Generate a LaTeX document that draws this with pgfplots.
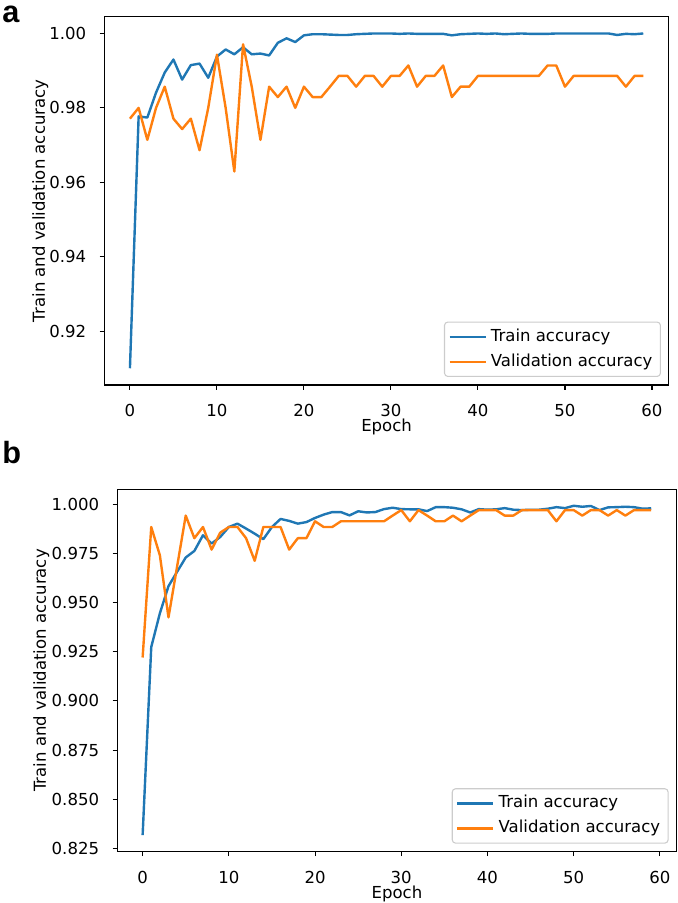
\documentclass[border=0pt]{standalone}
\usepackage{fontspec}
\setmainfont{DejaVu Sans}
\newfontfamily\panelfont{Liberation Sans}
\usepackage{pgfplots}
\usepackage{pgfplotstable}
\pgfplotsset{compat=1.18}
\definecolor{mblue}{HTML}{1F77B4}
\definecolor{morange}{HTML}{FF7F0E}

\pgfplotstableread{
epoch train val
0 0.9100 0.9771
1 0.9777 0.9800
2 0.9774 0.9714
3 0.9841 0.9800
4 0.9895 0.9857
5 0.9930 0.9771
6 0.9876 0.9743
7 0.9915 0.9771
8 0.9919 0.9686
9 0.9881 0.9800
10 0.9938 0.9943
11 0.9957 0.9800
12 0.9944 0.9629
13 0.9963 0.9971
14 0.9944 0.9857
15 0.9946 0.9714
16 0.9941 0.9857
17 0.9975 0.9829
18 0.9987 0.9857
19 0.9977 0.9800
20 0.9995 0.9857
21 0.9998 0.9829
22 0.9998 0.9829
23 0.9997 0.9857
24 0.9996 0.9886
25 0.9996 0.9886
26 0.9998 0.9857
27 0.9999 0.9886
28 1.0000 0.9886
29 1.0000 0.9857
30 1.0000 0.9886
31 0.9999 0.9886
32 1.0000 0.9914
33 0.9999 0.9857
34 0.9999 0.9886
35 0.9999 0.9886
36 0.9999 0.9914
37 0.9995 0.9829
38 0.9998 0.9857
39 0.9999 0.9857
40 1.0000 0.9886
41 0.9999 0.9886
42 1.0000 0.9886
43 0.9998 0.9886
44 0.9999 0.9886
45 1.0000 0.9886
46 0.9999 0.9886
47 0.9999 0.9886
48 0.9999 0.9914
49 1.0000 0.9914
50 1.0000 0.9857
51 1.0000 0.9886
52 1.0000 0.9886
53 1.0000 0.9886
54 1.0000 0.9886
55 1.0000 0.9886
56 0.9996 0.9886
57 0.9999 0.9857
58 0.9998 0.9886
59 1.0000 0.9886
}\topdata

\pgfplotstableread{
epoch train val
0 0.8317 0.9221
1 0.9274 0.9885
2 0.9446 0.9741
3 0.9584 0.9425
4 0.9657 0.9684
5 0.9730 0.9943
6 0.9763 0.9828
7 0.9843 0.9885
8 0.9801 0.9770
9 0.9834 0.9856
10 0.9885 0.9885
11 0.9902 0.9885
12 0.9877 0.9828
13 0.9851 0.9713
14 0.9823 0.9885
15 0.9885 0.9885
16 0.9926 0.9885
17 0.9916 0.9770
18 0.9902 0.9828
19 0.9910 0.9828
20 0.9931 0.9914
21 0.9948 0.9885
22 0.9961 0.9885
23 0.9961 0.9914
24 0.9944 0.9914
25 0.9965 0.9914
26 0.9959 0.9914
27 0.9961 0.9914
28 0.9976 0.9914
29 0.9983 0.9943
30 0.9976 0.9971
31 0.9975 0.9914
32 0.9975 0.9971
33 0.9966 0.9943
34 0.9986 0.9914
35 0.9986 0.9914
36 0.9983 0.9943
37 0.9975 0.9914
38 0.9959 0.9943
39 0.9976 0.9971
40 0.9973 0.9971
41 0.9975 0.9971
42 0.9981 0.9943
43 0.9973 0.9943
44 0.9971 0.9971
45 0.9973 0.9971
46 0.9973 0.9971
47 0.9978 0.9971
48 0.9986 0.9914
49 0.9981 0.9971
50 0.9993 0.9971
51 0.9988 0.9943
52 0.9992 0.9971
53 0.9971 0.9971
54 0.9985 0.9943
55 0.9986 0.9971
56 0.9988 0.9943
57 0.9986 0.9971
58 0.9978 0.9971
59 0.9980 0.9971
}\botdata

\newcommand{\tfont}{\fontsize{12.4}{14}\selectfont}

\pgfplotsset{
 myaxis/.style={
  scale only axis,
  anchor=south west,
  xmin=-2.95, xmax=61.95,
  xtick={0,10,...,60},
  tick pos=left,
  tick align=outside,
  major tick length=3.4pt,
  tick style={black, line width=0.8pt},
  axis line style={line width=0.8pt, black},
  /pgf/number format/assume math mode=true,
  tick label style={font=\tfont},
  label style={font=\tfont},
  xticklabel style={anchor=north, inner sep=0pt, yshift=-11.2pt},
  yticklabel style={anchor=east, inner sep=0pt, xshift=-10pt},
  xlabel={Epoch},
  ylabel={Train and validation accuracy},
  xlabel style={at={([yshift=-35pt]axis description cs:0.5,0)}, anchor=base},
  legend style={at={(axis description cs:1,0)}, anchor=south east, xshift=-6pt, yshift=6pt,
    draw=black!20, line width=0.8pt, rounded corners=2.5pt, font=\tfont,
    inner xsep=3pt, inner ysep=3pt, row sep=2.6pt,
    nodes={inner ysep=1.8pt, inner xsep=3pt, text height=9.5pt, text depth=3pt}},
  legend cell align=left,
  legend image code/.code={\draw[#1] (0pt,0pt) -- (27pt,0pt);},
  every axis plot/.append style={line width=1.8pt, line join=round},
 }
}

\begin{document}
\begin{tikzpicture}
\useasboundingbox (0,0) rectangle (508.5pt,677.25pt);

\begin{axis}[myaxis,
  at={(78.2pt,388.5pt)}, width=423.5pt, height=276.2pt,
  ymin=0.9055, ymax=1.0045,
  ytick={0.92,0.94,0.96,0.98,1.00},
  yticklabels={0.92,0.94,0.96,0.98,1.00},
  ylabel style={at={([xshift=-48pt]axis description cs:0,0.5)}, anchor=center},
]
\addplot[mblue] table[x=epoch, y=train] {\topdata};
\addlegendentry{Train accuracy}
\addplot[morange] table[x=epoch, y=val] {\topdata};
\addlegendentry{Validation accuracy}
\end{axis}

\begin{axis}[myaxis,
  at={(87.9pt,38.5pt)}, width=419.6pt, height=271.8pt,
  ymin=0.8233, ymax=1.0077,
  ytick={0.825,0.85,0.875,0.9,0.925,0.95,0.975,1.0},
  yticklabels={0.825,0.850,0.875,0.900,0.925,0.950,0.975,1.000},
  ylabel style={at={([xshift=-57pt]axis description cs:0,0.5)}, anchor=center},
]
\addplot[mblue] table[x=epoch, y=train] {\botdata};
\addlegendentry{Train accuracy}
\addplot[morange] table[x=epoch, y=val] {\botdata};
\addlegendentry{Validation accuracy}
\end{axis}

\node[anchor=base west, inner sep=0pt, text height=13pt, text depth=0pt, font=\panelfont\bfseries\fontsize{23}{27}\selectfont] at (1.5pt,660.5pt) {a};
\node[anchor=base west, inner sep=0pt, text height=17pt, text depth=0pt, font=\panelfont\bfseries\fontsize{23}{27}\selectfont] at (1.5pt,329.25pt) {b};
\end{tikzpicture}
\end{document}
